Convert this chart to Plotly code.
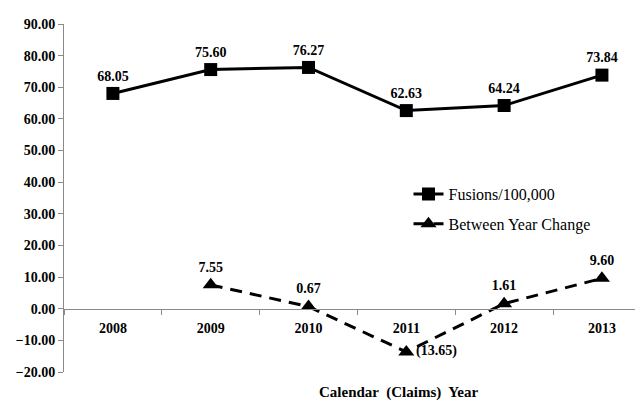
import plotly.graph_objects as go

years = ["2008", "2009", "2010", "2011", "2012", "2013"]
fusions = [68.05, 75.60, 76.27, 62.63, 64.24, 73.84]
change = [None, 7.55, 0.67, -13.65, 1.61, 9.60]
change_pos = ["top center", "top center", "top center", "middle right", "top center", "top center"]

FONT = "Liberation Serif, Times New Roman, serif"


def fmt(v):
    if v is None:
        return ""
    return f"({abs(v):.2f})" if v < 0 else f"{v:.2f}"


fig = go.Figure()
fig.add_trace(go.Scatter(
    x=years, y=fusions, name="Fusions/100,000", legendgroup="a",
    mode="lines+markers+text",
    line=dict(color="black", width=3),
    marker=dict(symbol="square", size=13, color="black"),
    text=[fmt(v) for v in fusions], textposition="top center",
    textfont=dict(family=FONT, size=14, color="black", weight="bold"),
))
fig.add_trace(go.Scatter(
    x=years, y=change, name="Between Year Change", legendgroup="b",
    mode="lines+markers+text",
    line=dict(color="black", width=3, dash="12px,8px"),
    marker=dict(symbol="triangle-up", size=14, color="black"),
    text=[fmt(v) for v in change], textposition=change_pos,
    textfont=dict(family=FONT, size=14, color="black", weight="bold"),
    connectgaps=False,
))

# page body has an 8px margin, so the figure is sized to fit inside the window
fig.update_layout(
    width=635, height=394,
    margin=dict(l=56, r=0, t=16, b=30),
    paper_bgcolor="white", plot_bgcolor="white",
    font=dict(family=FONT, color="black"),
    showlegend=True,
    legend=dict(x=0.595, y=0.56, xanchor="left", yanchor="top",
                traceorder="grouped", tracegroupgap=6,
                font=dict(family=FONT, size=16, color="black"),
                bgcolor="rgba(0,0,0,0)"),
    xaxis=dict(type="category", range=[-0.5, 5.42],
               anchor="free", position=20 / 110,
               showline=True, linecolor="#8a8a8a", linewidth=1,
               ticks="outside", ticklen=5, tickcolor="#8a8a8a",
               tickson="boundaries", showgrid=False, zeroline=False,
               ticklabelstandoff=6,
               tickfont=dict(family=FONT, size=14, color="black", weight="bold")),
    yaxis=dict(range=[-20, 90], dtick=10, tick0=0, tickformat=".2f",
               showline=True, linecolor="#8a8a8a", linewidth=1,
               ticks="outside", ticklen=5, tickcolor="#8a8a8a",
               showgrid=False, zeroline=False,
               tickfont=dict(family=FONT, size=14, color="black", weight="bold")),
    annotations=[dict(text="Calendar  (Claims)  Year", xref="paper", yref="paper",
                      x=(398 - 64) / 579, y=0, yshift=-20, xanchor="center", yanchor="middle",
                      showarrow=False,
                      font=dict(family=FONT, size=15, color="black", weight="bold"))],
)

fig.write_html("out.html")
